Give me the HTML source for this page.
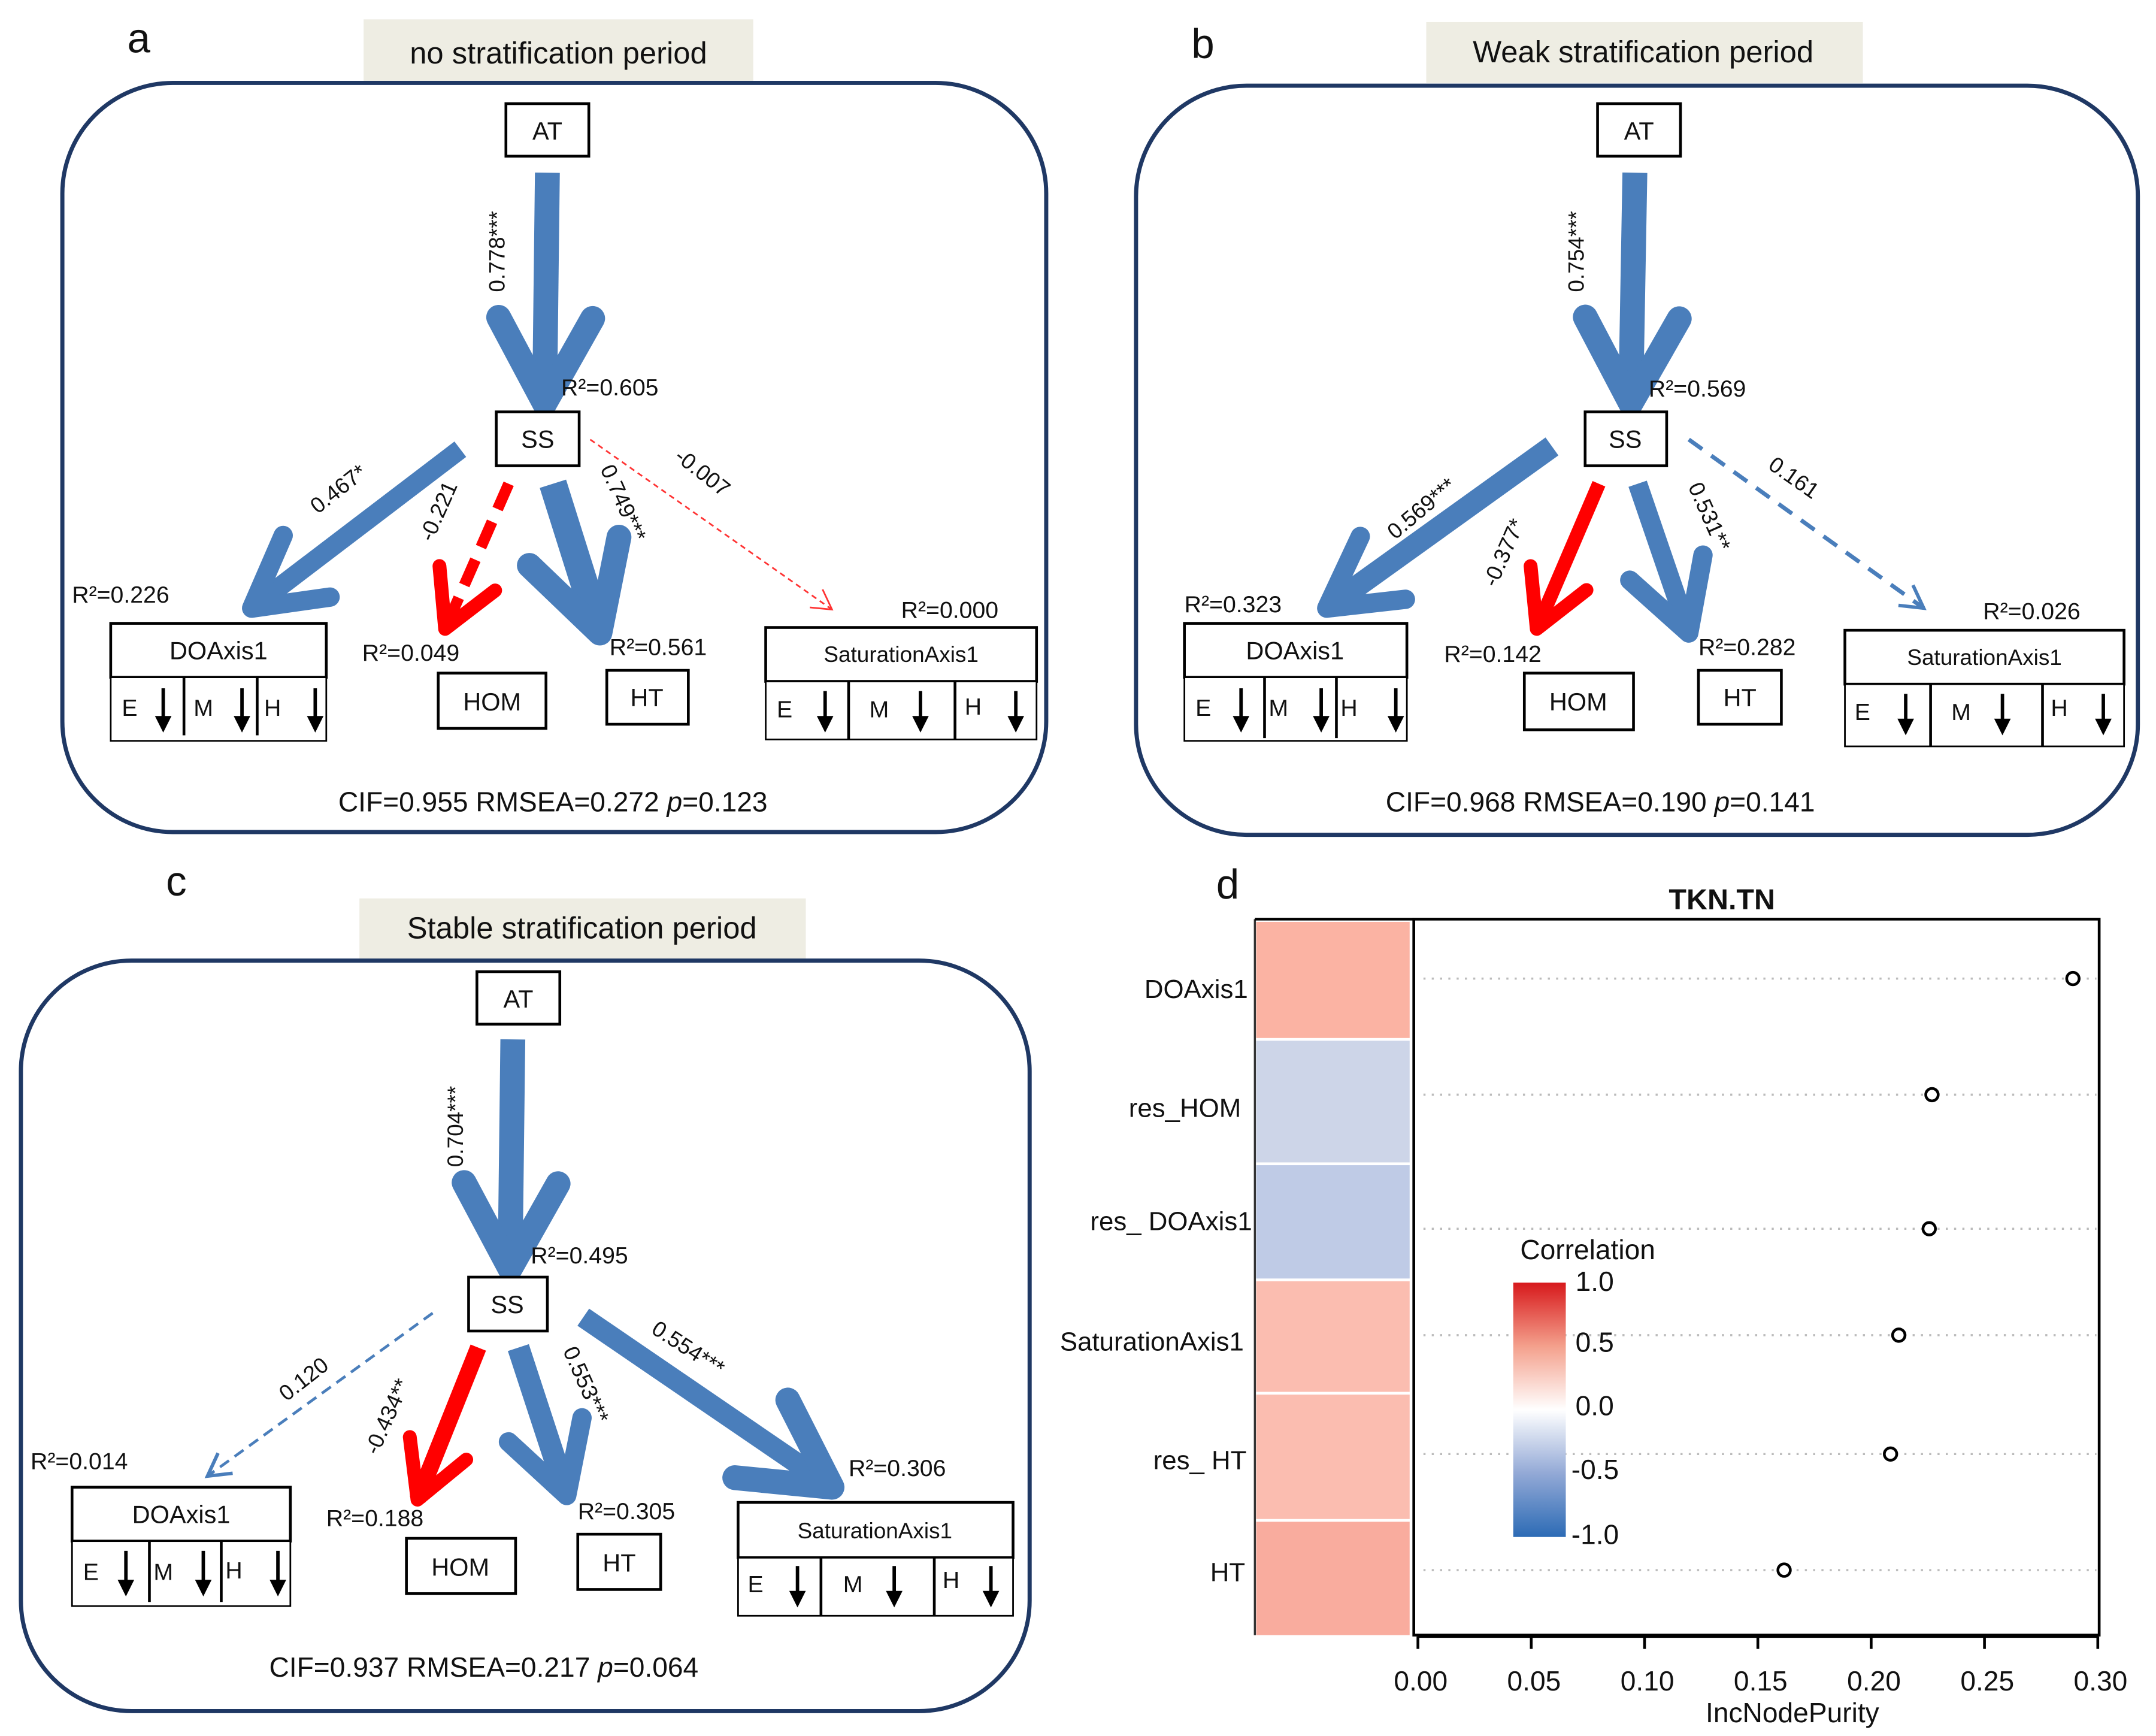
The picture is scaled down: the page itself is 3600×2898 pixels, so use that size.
<!DOCTYPE html>
<html><head><meta charset="utf-8"><style>
html,body{margin:0;padding:0;background:#fff;}
svg{display:block;}
text{font-family:"Liberation Sans",Arial,sans-serif;fill:#111;}
</style></head><body>
<svg width="3600" height="2898" viewBox="0 0 1560 1256" xmlns="http://www.w3.org/2000/svg">
<defs>
<marker id="mB" markerUnits="userSpaceOnUse" orient="auto" overflow="visible" markerWidth="1" markerHeight="1" refX="0" refY="0"><path d="M-62,-34 L0,0 L-62,34" fill="none" stroke="#4a7ebb" stroke-width="18" stroke-linecap="round" stroke-linejoin="round"/></marker>
<marker id="mBm" markerUnits="userSpaceOnUse" orient="auto" overflow="visible" markerWidth="1" markerHeight="1"><path d="M-50,-28 L0,0 L-50,28" fill="none" stroke="#4a7ebb" stroke-width="14" stroke-linecap="round" stroke-linejoin="round"/></marker>
<marker id="mR" markerUnits="userSpaceOnUse" orient="auto" overflow="visible" markerWidth="1" markerHeight="1"><path d="M-40,-22 L0,0 L-40,22" fill="none" stroke="#ff0000" stroke-width="10" stroke-linecap="round" stroke-linejoin="round"/></marker>
<marker id="mRt" markerUnits="userSpaceOnUse" orient="auto" overflow="visible" markerWidth="1" markerHeight="1"><path d="M-14,-8 L0,0 L-14,8" fill="none" stroke="#ff3333" stroke-width="1.2"/></marker>
<marker id="mBt" markerUnits="userSpaceOnUse" orient="auto" overflow="visible" markerWidth="1" markerHeight="1"><path d="M-16,-9 L0,0 L-16,9" fill="none" stroke="#4a7ebb" stroke-width="2.5"/></marker>
<linearGradient id="cg" x1="0" y1="0" x2="0" y2="1">
<stop offset="0" stop-color="#d7191c"/><stop offset="0.25" stop-color="#f4a08c"/><stop offset="0.5" stop-color="#ffffff"/><stop offset="0.75" stop-color="#93a9d6"/><stop offset="1" stop-color="#2c6bb5"/></linearGradient>
</defs>

<!-- ===== Panel a ===== -->
<text x="92" y="38" font-size="30">a</text>
<rect x="263" y="14" width="282" height="46" fill="#eeede3"/>
<text x="404" y="46" font-size="22" text-anchor="middle">no stratification period</text>
<rect x="45" y="60" width="712" height="542" rx="80" fill="none" stroke="#1f3864" stroke-width="3"/>
<rect x="366" y="75" width="60" height="38" fill="#fff" stroke="#000" stroke-width="2"/><text x="396" y="101" font-size="18" text-anchor="middle">AT</text>
<line x1="396" y1="125" x2="394" y2="292" stroke="#4a7ebb" stroke-width="18" marker-end="url(#mB)"/>
<text transform="translate(365,182) rotate(-90)" font-size="16" text-anchor="middle">0.778***</text>
<text x="406" y="286" font-size="17">R²=0.605</text>
<rect x="359" y="298" width="60" height="39" fill="#fff" stroke="#000" stroke-width="2"/><text x="389" y="324" font-size="18" text-anchor="middle">SS</text>
<line x1="333" y1="325" x2="182" y2="440" stroke="#4a7ebb" stroke-width="14" marker-end="url(#mBm)"/>
<text transform="translate(248,358) rotate(-38)" font-size="16" text-anchor="middle">0.467*</text>
<line x1="368" y1="350" x2="322" y2="455" stroke="#ff0000" stroke-width="8" stroke-dasharray="20,10" marker-end="url(#mR)"/>
<text transform="translate(322,372) rotate(-66)" font-size="16" text-anchor="middle">-0.221</text>
<line x1="400" y1="350" x2="434" y2="458" stroke="#4a7ebb" stroke-width="20" marker-end="url(#mB)"/>
<text transform="translate(446,366) rotate(66)" font-size="16" text-anchor="middle">0.749***</text>
<line x1="427" y1="318" x2="602" y2="441" stroke="#ff3333" stroke-width="1.2" stroke-dasharray="4,3" marker-end="url(#mRt)"/>
<text transform="translate(505,346) rotate(38)" font-size="16" text-anchor="middle">-0.007</text>
<text x="52" y="436" font-size="17">R²=0.226</text>
<text x="262" y="478" font-size="17">R²=0.049</text>
<text x="441" y="474" font-size="17">R²=0.561</text>
<text x="652" y="447" font-size="17">R²=0.000</text>
<rect x="80" y="451" width="156" height="39" fill="#fff" stroke="#000" stroke-width="2"/><text x="158" y="477" font-size="18" text-anchor="middle">DOAxis1</text>
<rect x="80" y="490" width="156" height="46" fill="#fff" stroke="#000" stroke-width="1.2"/>
<line x1="133" y1="490" x2="133" y2="532" stroke="#000" stroke-width="2"/><line x1="186" y1="490" x2="186" y2="532" stroke="#000" stroke-width="2"/>
<text x="88" y="518" font-size="17">E</text><text x="140" y="518" font-size="17">M</text><text x="191" y="518" font-size="17">H</text>
<g stroke="#000" stroke-width="2.5"><line x1="118" y1="498" x2="118" y2="520"/><line x1="175" y1="498" x2="175" y2="520"/><line x1="228" y1="498" x2="228" y2="520"/></g>
<g fill="#000"><path d="M112,518 L124,518 L118,530Z"/><path d="M169,518 L181,518 L175,530Z"/><path d="M222,518 L234,518 L228,530Z"/></g>
<rect x="317" y="487" width="78" height="40" fill="#fff" stroke="#000" stroke-width="2"/><text x="356" y="514" font-size="18" text-anchor="middle">HOM</text>
<rect x="439" y="485" width="59" height="39" fill="#fff" stroke="#000" stroke-width="2"/><text x="468" y="511" font-size="18" text-anchor="middle">HT</text>
<rect x="554" y="454" width="196" height="39" fill="#fff" stroke="#000" stroke-width="2"/><text x="652" y="479" font-size="16" text-anchor="middle">SaturationAxis1</text>
<rect x="554" y="493" width="196" height="42" fill="#fff" stroke="#000" stroke-width="1.2"/>
<line x1="614" y1="493" x2="614" y2="535" stroke="#000" stroke-width="2"/><line x1="691" y1="493" x2="691" y2="535" stroke="#000" stroke-width="2"/>
<text x="562" y="519" font-size="17">E</text><text x="629" y="519" font-size="17">M</text><text x="698" y="517" font-size="17">H</text>
<g stroke="#000" stroke-width="2.5"><line x1="597" y1="500" x2="597" y2="520"/><line x1="666" y1="500" x2="666" y2="520"/><line x1="735" y1="500" x2="735" y2="520"/></g>
<g fill="#000"><path d="M591,518 L603,518 L597,530Z"/><path d="M660,518 L672,518 L666,530Z"/><path d="M729,518 L741,518 L735,530Z"/></g>
<text x="400" y="587" font-size="20" text-anchor="middle">CIF=0.955  RMSEA=0.272 <tspan font-style="italic">p</tspan>=0.123</text>

<!-- ===== Panel b ===== -->
<text x="862" y="42" font-size="30">b</text>
<rect x="1032" y="16" width="316" height="44" fill="#eeede3"/>
<text x="1189" y="45" font-size="22" text-anchor="middle">Weak stratification period</text>
<rect x="822" y="62" width="725" height="542" rx="80" fill="none" stroke="#1f3864" stroke-width="3"/>
<rect x="1156" y="75" width="60" height="38" fill="#fff" stroke="#000" stroke-width="2"/><text x="1186" y="101" font-size="18" text-anchor="middle">AT</text>
<line x1="1183" y1="125" x2="1180" y2="292" stroke="#4a7ebb" stroke-width="18" marker-end="url(#mB)"/>
<text transform="translate(1146,182) rotate(-90)" font-size="16" text-anchor="middle">0.754***</text>
<text x="1193" y="287" font-size="17">R²=0.569</text>
<rect x="1147" y="298" width="59" height="39" fill="#fff" stroke="#000" stroke-width="2"/><text x="1176" y="324" font-size="18" text-anchor="middle">SS</text>
<line x1="1123" y1="323" x2="960" y2="440" stroke="#4a7ebb" stroke-width="16" marker-end="url(#mBm)"/>
<text transform="translate(1032,372) rotate(-40)" font-size="16" text-anchor="middle">0.569***</text>
<line x1="1157" y1="350" x2="1112" y2="455" stroke="#ff0000" stroke-width="10" marker-end="url(#mR)"/>
<text transform="translate(1093,402) rotate(-66)" font-size="16" text-anchor="middle">-0.377*</text>
<line x1="1185" y1="350" x2="1222" y2="458" stroke="#4a7ebb" stroke-width="14" marker-end="url(#mBm)"/>
<text transform="translate(1232,376) rotate(66)" font-size="16" text-anchor="middle">0.531**</text>
<line x1="1222" y1="318" x2="1392" y2="440" stroke="#4a7ebb" stroke-width="3" stroke-dasharray="12,8" marker-end="url(#mBt)"/>
<text transform="translate(1295,350) rotate(35)" font-size="16" text-anchor="middle">0.161</text>
<text x="857" y="443" font-size="17">R²=0.323</text>
<text x="1045" y="479" font-size="17">R²=0.142</text>
<text x="1229" y="474" font-size="17">R²=0.282</text>
<text x="1435" y="448" font-size="17">R²=0.026</text>
<rect x="857" y="451" width="161" height="39" fill="#fff" stroke="#000" stroke-width="2"/><text x="937" y="477" font-size="18" text-anchor="middle">DOAxis1</text>
<rect x="857" y="490" width="161" height="46" fill="#fff" stroke="#000" stroke-width="1.2"/>
<line x1="915" y1="490" x2="915" y2="534" stroke="#000" stroke-width="2"/><line x1="967" y1="490" x2="967" y2="534" stroke="#000" stroke-width="2"/>
<text x="865" y="518" font-size="17">E</text><text x="918" y="518" font-size="17">M</text><text x="970" y="518" font-size="17">H</text>
<g stroke="#000" stroke-width="2.5"><line x1="898" y1="498" x2="898" y2="520"/><line x1="956" y1="498" x2="956" y2="520"/><line x1="1010" y1="498" x2="1010" y2="520"/></g>
<g fill="#000"><path d="M892,518 L904,518 L898,530Z"/><path d="M950,518 L962,518 L956,530Z"/><path d="M1004,518 L1016,518 L1010,530Z"/></g>
<rect x="1103" y="487" width="79" height="41" fill="#fff" stroke="#000" stroke-width="2"/><text x="1142" y="514" font-size="18" text-anchor="middle">HOM</text>
<rect x="1229" y="485" width="60" height="39" fill="#fff" stroke="#000" stroke-width="2"/><text x="1259" y="511" font-size="18" text-anchor="middle">HT</text>
<rect x="1335" y="456" width="202" height="39" fill="#fff" stroke="#000" stroke-width="2"/><text x="1436" y="481" font-size="16" text-anchor="middle">SaturationAxis1</text>
<rect x="1335" y="495" width="202" height="45" fill="#fff" stroke="#000" stroke-width="1.2"/>
<line x1="1397" y1="495" x2="1397" y2="540" stroke="#000" stroke-width="2"/><line x1="1478" y1="495" x2="1478" y2="540" stroke="#000" stroke-width="2"/>
<text x="1342" y="521" font-size="17">E</text><text x="1412" y="521" font-size="17">M</text><text x="1484" y="518" font-size="17">H</text>
<g stroke="#000" stroke-width="2.5"><line x1="1379" y1="502" x2="1379" y2="522"/><line x1="1449" y1="502" x2="1449" y2="522"/><line x1="1522" y1="502" x2="1522" y2="522"/></g>
<g fill="#000"><path d="M1373,520 L1385,520 L1379,532Z"/><path d="M1443,520 L1455,520 L1449,532Z"/><path d="M1516,520 L1528,520 L1522,532Z"/></g>
<text x="1158" y="587" font-size="20" text-anchor="middle">CIF=0.968  RMSEA=0.190 <tspan font-style="italic">p</tspan>=0.141</text>

<!-- ===== Panel c ===== -->
<text x="120" y="648" font-size="30">c</text>
<rect x="260" y="650" width="323" height="44" fill="#eeede3"/>
<text x="421" y="679" font-size="22" text-anchor="middle">Stable stratification period</text>
<rect x="15" y="695" width="730" height="543" rx="80" fill="none" stroke="#1f3864" stroke-width="3"/>
<rect x="345" y="703" width="60" height="38" fill="#fff" stroke="#000" stroke-width="2"/><text x="375" y="729" font-size="18" text-anchor="middle">AT</text>
<line x1="371" y1="752" x2="369" y2="918" stroke="#4a7ebb" stroke-width="18" marker-end="url(#mB)"/>
<text transform="translate(335,815) rotate(-90)" font-size="16" text-anchor="middle">0.704***</text>
<text x="384" y="914" font-size="17">R²=0.495</text>
<rect x="339" y="924" width="57" height="39" fill="#fff" stroke="#000" stroke-width="2"/><text x="367" y="950" font-size="18" text-anchor="middle">SS</text>
<line x1="313" y1="950" x2="150" y2="1068" stroke="#4a7ebb" stroke-width="2" stroke-dasharray="8,5" marker-end="url(#mBt)"/>
<text transform="translate(223,1002) rotate(-38)" font-size="16" text-anchor="middle">0.120</text>
<line x1="346" y1="975" x2="302" y2="1085" stroke="#ff0000" stroke-width="12" marker-end="url(#mR)"/>
<text transform="translate(285,1027) rotate(-66)" font-size="16" text-anchor="middle">-0.434**</text>
<line x1="375" y1="975" x2="410" y2="1082" stroke="#4a7ebb" stroke-width="16" marker-end="url(#mBm)"/>
<text transform="translate(419,1004) rotate(66)" font-size="16" text-anchor="middle">0.553***</text>
<line x1="422" y1="953" x2="602" y2="1076" stroke="#4a7ebb" stroke-width="15" marker-end="url(#mB)"/>
<text transform="translate(495,980) rotate(33)" font-size="16" text-anchor="middle">0.554***</text>
<text x="22" y="1063" font-size="17">R²=0.014</text>
<text x="236" y="1104" font-size="17">R²=0.188</text>
<text x="418" y="1099" font-size="17">R²=0.305</text>
<text x="614" y="1068" font-size="17">R²=0.306</text>
<rect x="52" y="1076" width="158" height="39" fill="#fff" stroke="#000" stroke-width="2"/><text x="131" y="1102" font-size="18" text-anchor="middle">DOAxis1</text>
<rect x="52" y="1115" width="158" height="47" fill="#fff" stroke="#000" stroke-width="1.2"/>
<line x1="108" y1="1115" x2="108" y2="1159" stroke="#000" stroke-width="2"/><line x1="160" y1="1115" x2="160" y2="1159" stroke="#000" stroke-width="2"/>
<text x="60" y="1143" font-size="17">E</text><text x="111" y="1143" font-size="17">M</text><text x="163" y="1142" font-size="17">H</text>
<g stroke="#000" stroke-width="2.5"><line x1="91" y1="1122" x2="91" y2="1145"/><line x1="147" y1="1122" x2="147" y2="1145"/><line x1="201" y1="1122" x2="201" y2="1145"/></g>
<g fill="#000"><path d="M85,1143 L97,1143 L91,1155Z"/><path d="M141,1143 L153,1143 L147,1155Z"/><path d="M195,1143 L207,1143 L201,1155Z"/></g>
<rect x="294" y="1113" width="79" height="40" fill="#fff" stroke="#000" stroke-width="2"/><text x="333" y="1140" font-size="18" text-anchor="middle">HOM</text>
<rect x="418" y="1110" width="60" height="40" fill="#fff" stroke="#000" stroke-width="2"/><text x="448" y="1137" font-size="18" text-anchor="middle">HT</text>
<rect x="534" y="1087" width="199" height="40" fill="#fff" stroke="#000" stroke-width="2"/><text x="633" y="1113" font-size="16" text-anchor="middle">SaturationAxis1</text>
<rect x="534" y="1127" width="199" height="42" fill="#fff" stroke="#000" stroke-width="1.2"/>
<line x1="594" y1="1127" x2="594" y2="1169" stroke="#000" stroke-width="2"/><line x1="676" y1="1127" x2="676" y2="1169" stroke="#000" stroke-width="2"/>
<text x="541" y="1152" font-size="17">E</text><text x="610" y="1152" font-size="17">M</text><text x="682" y="1149" font-size="17">H</text>
<g stroke="#000" stroke-width="2.5"><line x1="577" y1="1133" x2="577" y2="1153"/><line x1="647" y1="1133" x2="647" y2="1153"/><line x1="717" y1="1133" x2="717" y2="1153"/></g>
<g fill="#000"><path d="M571,1151 L583,1151 L577,1163Z"/><path d="M641,1151 L653,1151 L647,1163Z"/><path d="M711,1151 L723,1151 L717,1163Z"/></g>
<text x="350" y="1213" font-size="20" text-anchor="middle">CIF=0.937  RMSEA=0.217 <tspan font-style="italic">p</tspan>=0.064</text>

<!-- ===== Panel d ===== -->
<text x="880" y="650" font-size="30">d</text>
<text x="1246" y="658" font-size="21" font-weight="bold" text-anchor="middle">TKN.TN</text>
<rect x="909" y="667" width="111" height="84" fill="#fbb3a3"/>
<rect x="909" y="753" width="111" height="88" fill="#cdd5e8"/>
<rect x="909" y="843" width="111" height="82" fill="#bfcbe6"/>
<rect x="909" y="927" width="111" height="80" fill="#fbbdb0"/>
<rect x="909" y="1009" width="111" height="90" fill="#fbbdb0"/>
<rect x="909" y="1101" width="111" height="82" fill="#f9ac9e"/>
<line x1="908" y1="665" x2="908" y2="1183" stroke="#333" stroke-width="1.5"/>
<line x1="908" y1="665" x2="1023" y2="665" stroke="#000" stroke-width="2"/>
<rect x="1023" y="665" width="496" height="518" fill="none" stroke="#000" stroke-width="2"/>
<g font-size="19" text-anchor="end">
<text x="903" y="722">DOAxis1</text>
<text x="898" y="808">res_HOM</text>
<text x="906" y="890">res_ DOAxis1</text>
<text x="900" y="977">SaturationAxis1</text>
<text x="902" y="1063">res_ HT</text>
<text x="901" y="1144">HT</text>
</g>
<g stroke="#bbb" stroke-width="1.5" stroke-dasharray="1.5,4.5">
<line x1="1030" y1="708" x2="1517" y2="708"/><line x1="1030" y1="792" x2="1517" y2="792"/>
<line x1="1030" y1="889" x2="1517" y2="889"/><line x1="1030" y1="966" x2="1517" y2="966"/>
<line x1="1030" y1="1052" x2="1517" y2="1052"/><line x1="1030" y1="1136" x2="1517" y2="1136"/>
</g>
<g fill="#fff" stroke="#000" stroke-width="2">
<circle cx="1500" cy="708" r="4.5"/><circle cx="1398" cy="792" r="4.5"/><circle cx="1396" cy="889" r="4.5"/>
<circle cx="1374" cy="966" r="4.5"/><circle cx="1368" cy="1052" r="4.5"/><circle cx="1291" cy="1136" r="4.5"/>
</g>
<line x1="1026" y1="1184" x2="1518" y2="1184" stroke="#000" stroke-width="2"/>
<g stroke="#000" stroke-width="2">
<line x1="1026" y1="1184" x2="1026" y2="1193"/><line x1="1108" y1="1184" x2="1108" y2="1193"/><line x1="1190" y1="1184" x2="1190" y2="1193"/>
<line x1="1272" y1="1184" x2="1272" y2="1193"/><line x1="1354" y1="1184" x2="1354" y2="1193"/><line x1="1436" y1="1184" x2="1436" y2="1193"/><line x1="1518" y1="1184" x2="1518" y2="1193"/>
</g>
<g font-size="20" text-anchor="middle" fill="#222">
<text x="1028" y="1223">0.00</text><text x="1110" y="1223">0.05</text><text x="1192" y="1223">0.10</text>
<text x="1274" y="1223">0.15</text><text x="1356" y="1223">0.20</text><text x="1438" y="1223">0.25</text><text x="1520" y="1223">0.30</text>
</g>
<text x="1297" y="1246" font-size="20" text-anchor="middle">IncNodePurity</text>
<text x="1100" y="911" font-size="20">Correlation</text>
<rect x="1095" y="928" width="38" height="184" fill="url(#cg)"/>
<g font-size="20">
<text x="1140" y="934">1.0</text><text x="1140" y="978">0.5</text><text x="1140" y="1024">0.0</text>
<text x="1137" y="1070">-0.5</text><text x="1137" y="1117">-1.0</text>
</g>
</svg>
</body></html>
